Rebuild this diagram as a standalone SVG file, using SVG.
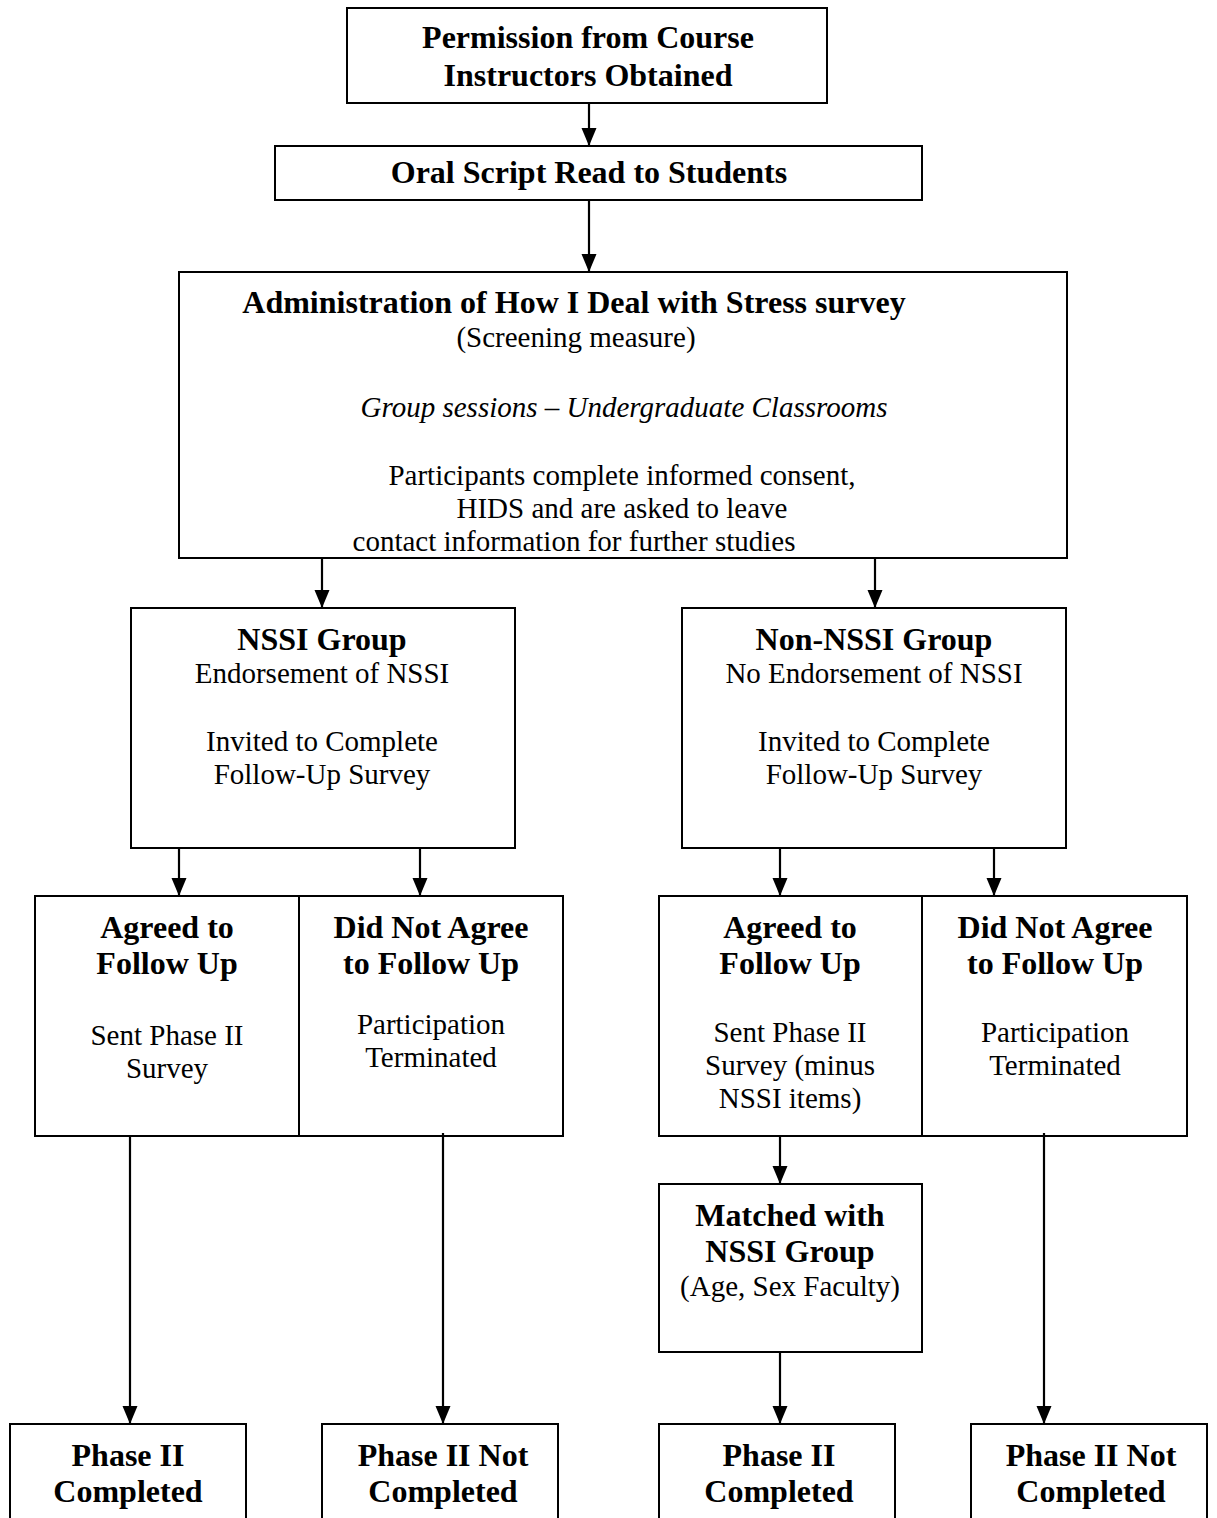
<svg xmlns="http://www.w3.org/2000/svg" width="1217" height="1518" viewBox="0 0 1217 1518">
<style>
rect{fill:#fff;stroke:#000;stroke-width:2}
text{font-family:"Liberation Serif","Times New Roman",serif;font-size:29px;fill:#000;text-anchor:middle}
.b{font-weight:bold;font-size:32px}
.i{font-style:italic}
.c line{stroke:#000;stroke-width:2.2}
</style>
<defs>
<marker id="ah" markerWidth="18" markerHeight="16" refX="18" refY="8" orient="auto" markerUnits="userSpaceOnUse">
<path d="M0,0.5 L18,8 L0,15.5 Z" fill="#000"/>
</marker>
</defs>
<rect x="0" y="0" width="1217" height="1518" style="stroke:none"/>
<g id="n1"><rect x="347" y="8" width="480" height="95"/><text class="b" x="588" y="48">Permission from Course</text><text class="b" x="588" y="86">Instructors Obtained</text></g>
<g id="n2"><rect x="275" y="146" width="647" height="54"/><text class="b" x="589" y="183">Oral Script Read to Students</text></g>
<g id="n3"><rect x="179" y="272" width="888" height="286"/>
<text class="b" x="574" y="313">Administration of How I Deal with Stress survey</text>
<text x="576" y="347">(Screening measure)</text>
<text class="i" x="624" y="417">Group sessions – Undergraduate Classrooms</text>
<text x="622" y="485">Participants complete informed consent,</text>
<text x="622" y="518">HIDS and are asked to leave</text>
<text x="574" y="551">contact information for further studies</text></g>
<g id="n4"><rect x="131" y="608" width="384" height="240"/>
<text class="b" x="322" y="650">NSSI Group</text><text x="322" y="683">Endorsement of NSSI</text>
<text x="322" y="751">Invited to Complete</text><text x="322" y="784">Follow-Up Survey</text></g>
<g id="n5"><rect x="682" y="608" width="384" height="240"/>
<text class="b" x="874" y="650">Non-NSSI Group</text><text x="874" y="683">No Endorsement of NSSI</text>
<text x="874" y="751">Invited to Complete</text><text x="874" y="784">Follow-Up Survey</text></g>
<g id="n6"><rect x="35" y="896" width="264" height="240"/>
<text class="b" x="167" y="938">Agreed to</text><text class="b" x="167" y="974">Follow Up</text>
<text x="167" y="1045">Sent Phase II</text><text x="167" y="1078">Survey</text></g>
<g id="n7"><rect x="299" y="896" width="264" height="240"/>
<text class="b" x="431" y="938">Did Not Agree</text><text class="b" x="431" y="974">to Follow Up</text>
<text x="431" y="1034">Participation</text><text x="431" y="1067">Terminated</text></g>
<g id="n8"><rect x="659" y="896" width="263" height="240"/>
<text class="b" x="790" y="938">Agreed to</text><text class="b" x="790" y="974">Follow Up</text>
<text x="790" y="1042">Sent Phase II</text><text x="790" y="1075">Survey (minus</text><text x="790" y="1108">NSSI items)</text></g>
<g id="n9"><rect x="922" y="896" width="265" height="240"/>
<text class="b" x="1055" y="938">Did Not Agree</text><text class="b" x="1055" y="974">to Follow Up</text>
<text x="1055" y="1042">Participation</text><text x="1055" y="1075">Terminated</text></g>
<g id="n10"><rect x="659" y="1184" width="263" height="168"/>
<text class="b" x="790" y="1226">Matched with</text><text class="b" x="790" y="1262">NSSI Group</text>
<text x="790" y="1296">(Age, Sex Faculty)</text></g>
<g id="n11"><rect x="10" y="1424" width="236" height="110"/><text class="b" x="128" y="1466">Phase II</text><text class="b" x="128" y="1502">Completed</text></g>
<g id="n12"><rect x="322" y="1424" width="236" height="110"/><text class="b" x="443" y="1466">Phase II Not</text><text class="b" x="443" y="1502">Completed</text></g>
<g id="n13"><rect x="659" y="1424" width="236" height="110"/><text class="b" x="779" y="1466">Phase II</text><text class="b" x="779" y="1502">Completed</text></g>
<g id="n14"><rect x="971" y="1424" width="236" height="110"/><text class="b" x="1091" y="1466">Phase II Not</text><text class="b" x="1091" y="1502">Completed</text></g>
<g class="c" id="connectors">
<line x1="589" y1="103" x2="589" y2="146" marker-end="url(#ah)"/>
<line x1="589" y1="200" x2="589" y2="272" marker-end="url(#ah)"/>
<line x1="322" y1="558" x2="322" y2="608" marker-end="url(#ah)"/>
<line x1="875" y1="558" x2="875" y2="608" marker-end="url(#ah)"/>
<line x1="179" y1="848" x2="179" y2="896" marker-end="url(#ah)"/>
<line x1="420" y1="848" x2="420" y2="896" marker-end="url(#ah)"/>
<line x1="780" y1="848" x2="780" y2="896" marker-end="url(#ah)"/>
<line x1="994" y1="848" x2="994" y2="896" marker-end="url(#ah)"/>
<line x1="130" y1="1136" x2="130" y2="1424" marker-end="url(#ah)"/>
<line x1="443" y1="1133" x2="443" y2="1424" marker-end="url(#ah)"/>
<line x1="780" y1="1136" x2="780" y2="1184" marker-end="url(#ah)"/>
<line x1="780" y1="1352" x2="780" y2="1424" marker-end="url(#ah)"/>
<line x1="1044" y1="1133" x2="1044" y2="1424" marker-end="url(#ah)"/>
</g>
</svg>
